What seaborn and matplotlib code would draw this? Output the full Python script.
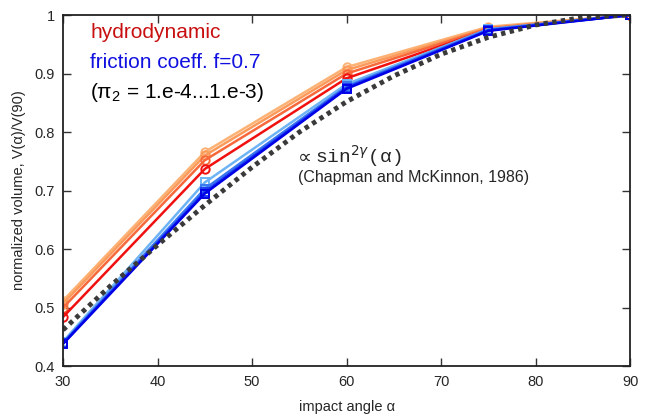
import numpy as np
import pandas as pd
import matplotlib
matplotlib.use("Agg")
import matplotlib.pyplot as plt
import seaborn as sns

sns.set_style("ticks")
plt.rcParams["font.family"] = ["Liberation Sans", "DejaVu Sans"]
plt.rcParams["mathtext.fontset"] = "dejavusans"

# impact angles of the simulations
angles = [30, 45, 60, 75, 90]

# hydrodynamic runs (pi_2 = 1e-4 ... 1e-3)
hydro_1 = [0.512, 0.766, 0.911, 0.980, 1.0]
hydro_2 = [0.507, 0.760, 0.906, 0.978, 1.0]
hydro_3 = [0.500, 0.752, 0.900, 0.977, 1.0]
hydro_4 = [0.484, 0.737, 0.892, 0.975, 1.0]

# friction coeff. f=0.7 runs
fric_1 = [0.442, 0.714, 0.882, 0.976, 1.0]
fric_2 = [0.440, 0.703, 0.878, 0.975, 1.0]
fric_3 = [0.439, 0.698, 0.876, 0.974, 1.0]
fric_4 = [0.438, 0.695, 0.874, 0.973, 1.0]

# Chapman and McKinnon (1986) scaling curve
ref_angles = [30, 35, 40, 45, 50, 55, 60, 65, 70, 75, 80, 85, 90]
ref_volume = [0.462, 0.537, 0.607, 0.675, 0.740, 0.800, 0.852, 0.896, 0.933, 0.962, 0.983, 0.996, 1.0]

hydro_colors = ["#FDB275", "#FB9A5A", "#F7683A", "#F01010"]
fric_colors = ["#6EB4F5", "#3A78F0", "#1A3CF0", "#0000E6"]

fig = plt.figure(figsize=(6.57, 4.18), dpi=100)
ax = fig.add_axes([0.096, 0.124, 0.863, 0.840])

for vals, col in zip([hydro_1, hydro_2, hydro_3, hydro_4], hydro_colors):
    sns.lineplot(x=angles, y=vals, ax=ax, color=col, linewidth=1.8,
                 marker="o", markersize=6, markerfacecolor="none",
                 markeredgecolor=col, markeredgewidth=1.4)

for vals, col in zip([fric_1, fric_2, fric_3, fric_4], fric_colors):
    sns.lineplot(x=angles, y=vals, ax=ax, color=col, linewidth=1.8,
                 marker="s", markersize=6, markerfacecolor="none",
                 markeredgecolor=col, markeredgewidth=1.4)

sns.lineplot(x=ref_angles, y=ref_volume, ax=ax, color="#3a3a3a", linewidth=3.5)
ax.lines[-1].set_dash_capstyle("butt")
ax.lines[-1].set_linestyle((0, (0.9, 0.9)))

ax.set_xlim(30, 90)
ax.set_ylim(0.4, 1.0)
ax.set_xticks([30, 40, 50, 60, 70, 80, 90])
ax.set_yticks([0.4, 0.5, 0.6, 0.7, 0.8, 0.9, 1.0])
ax.set_yticklabels(["0.4", "0.5", "0.6", "0.7", "0.8", "0.9", "1"])
ax.tick_params(direction="in", top=True, right=True, length=6, width=1,
               labelsize=10.5, color="#333333", pad=6)
for s in ax.spines.values():
    s.set_linewidth(1.3)
    s.set_color("#222222")

ax.set_xlabel("impact angle α", fontsize=10.5, labelpad=8)
ax.set_ylabel("normalized volume, V(α)/V(90)", fontsize=10.5, labelpad=6)

ax.text(0.048, 0.951, "hydrodynamic", transform=ax.transAxes, color="#C81010",
        fontsize=15, va="center")
ax.text(0.048, 0.866, "friction coeff. f=0.7", transform=ax.transAxes, color="#1010E0",
        fontsize=15, va="center")
ax.text(0.048, 0.78, r"($\mathregular{\pi_2}$ = 1.e-4...1.e-3)", transform=ax.transAxes,
        color="black", fontsize=15, va="center")

ax.text(0.415, 0.58, "∝", transform=ax.transAxes, fontsize=14, va="baseline",
        family="DejaVu Sans")
ax.text(0.445, 0.58, r"sin$^{2\gamma}$(α)", transform=ax.transAxes, fontsize=14,
        va="baseline", family=["Liberation Mono", "DejaVu Sans Mono"])
ax.text(0.415, 0.538, "(Chapman and McKinnon, 1986)", transform=ax.transAxes,
        fontsize=11.5, va="center")

fig.savefig("out.png", dpi=100)
